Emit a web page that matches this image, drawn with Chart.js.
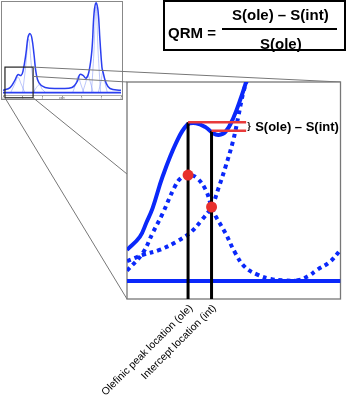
<!DOCTYPE html>
<html>
<head>
<meta charset="utf-8">
<script src="https://cdn.jsdelivr.net/npm/chart.js"></script>
<style>
html, body { margin: 0; padding: 0; background: #fff; }
body { width: 346px; height: 400px; position: relative; overflow: hidden; font-family: "Liberation Sans", Arial, sans-serif; }
#inset, #main { position: absolute; left: 0; top: 0; }
#qrm { position: absolute; left: 163px; top: 0; width: 183px; height: 51px; box-sizing: border-box; border: 2px solid #000; font-weight: bold; font-size: 15px; line-height: 15px; color: #000; }
#qrm span { position: absolute; white-space: nowrap; }
#qrm .bar { position: absolute; left: 57px; top: 26px; width: 115px; height: 2px; background: #000; }
</style>
</head>
<body>
<canvas id="inset" width="126" height="101"></canvas>
<canvas id="main" width="346" height="400"></canvas>
<div id="qrm">
  <span style="left:3px; top:23px;">QRM =</span>
  <span id="num" style="left:67px; top:5px;">S(ole) – S(int)</span>
  <div class="bar"></div>
  <span id="den" style="left:95px; top:34px;">S(ole)</span>
</div>
<script>
// ---- inset: full spectrum (ppm, normalised intensity)
var insetPpm = [6.0, 5.64, 5.39, 5.24, 5.08, 4.98, 4.83, 4.73, 4.63, 4.53, 4.42, 4.32, 4.17, 3.86, 3.10, 2.49, 2.24, 2.09, 1.93, 1.78, 1.63, 1.48, 1.37, 1.27, 1.17, 1.07, 0.97, 0.92, 0.76, 0.56, 0.0];
var insetSum = [0.05, 0.08, 0.16, 0.22, 0.21, 0.26, 0.45, 0.62, 0.66, 0.61, 0.43, 0.24, 0.13, 0.08, 0.07, 0.08, 0.14, 0.22, 0.21, 0.18, 0.25, 0.48, 0.88, 0.99, 0.91, 0.59, 0.30, 0.25, 0.13, 0.07, 0.05];
var insetBase = [0.025, 0.025];
var comp1 = [[5.6, 0.03], [5.4, 0.12], [5.24, 0.19], [5.08, 0.12], [4.9, 0.03]];
var comp2 = [[5.0, 0.03], [4.85, 0.3], [4.7, 0.6], [4.55, 0.3], [4.4, 0.03]];
var comp3 = [[4.45, 0.03], [4.3, 0.08], [4.15, 0.11], [4.0, 0.06], [3.85, 0.03]];
var comp4 = [[2.45, 0.03], [2.3, 0.12], [2.18, 0.2], [2.05, 0.12], [1.9, 0.03]];
var comp5 = [[1.95, 0.03], [1.8, 0.13], [1.68, 0.21], [1.55, 0.13], [1.42, 0.03]];
var comp6 = [[1.5, 0.03], [1.38, 0.45], [1.27, 0.95], [1.16, 0.45], [1.04, 0.03]];
var comp7 = [[1.15, 0.03], [1.02, 0.14], [0.92, 0.25], [0.82, 0.14], [0.7, 0.03]];
// zoomed window shown in the big panel
var zoomWin = { left: 5.9, right: 4.47, top: 0.30, bottom: -0.03, mid: 0.2 };

// ---- main panel (arbitrary units 0..100)
var solidX = [0, 6.0, 9.2, 12.0, 16.6, 23.0, 28.1, 32.3, 36.9, 40.1, 42.9, 46.1, 49.8, 53.5, 55.8, 58];
var solidY = [22.6, 28.6, 35.5, 41.9, 56.2, 71.9, 80.2, 81.0, 79.1, 76.5, 75.6, 77.0, 83.4, 93.1, 100, 107];
var oleCompX = [0, 7.4, 12.0, 16.6, 22.1, 25.3, 29.0, 32.7, 36.9, 39.6, 41.5, 46.1, 50.7, 55.3, 61.3, 67.3, 73, 80];
var oleCompY = [13.0, 21.2, 30.4, 39.2, 51.2, 55.8, 57.1, 55.8, 50.2, 42.4, 38.2, 30.4, 21.2, 14.7, 11.1, 9.2, 8.6, 8.3];
var bigCompX = [0, 7.4, 15.2, 23.0, 30.0, 35.0, 39.6, 42.9, 46.1, 49.8, 52.1, 54.4, 56.2, 58];
var bigCompY = [17.5, 20.3, 22.6, 26.3, 30.9, 36.4, 42.4, 51.2, 60.8, 73.3, 83.9, 94.9, 101, 108];
var nextCompX = [72, 80, 85, 89, 95, 100];
var nextCompY = [8.3, 8.6, 10.6, 13.4, 17.1, 22.6];
var baseX = [0, 100];
var baseY = [8.3, 8.3];

var oleX = 28.6, intX = 39.6;
var sOle = 81.5, sInt = 77.5;
var dotY = [57.1, 42.4];
var redEnd = 55.8;
var tickLabels = ['Olefinic peak location (ole)', 'Intercept location (int)'];
var diffLabel = 'S(ole) – S(int)';

Chart.defaults.font.family = '"Liberation Sans", Arial, sans-serif';

function pts(xs, ys) {
    return xs.map(function(x, i) { return {x: x, y: ys[i]}; });
}
function pairs(arr) {
    return arr.map(function(p) { return {x: p[0], y: p[1]}; });
}

var blue = 'rgb(10,40,250)';
var compStyle = function(d) {
    return {data: pairs(d), borderColor: 'rgba(100,125,245,0.55)', borderWidth: 0.8, tension: 0.4, pointRadius: 0};
};

var insetFrame = {
    id: 'insetFrame',
    afterDraw: function(chart) {
        var ctx = chart.ctx, x = chart.scales.x, y = chart.scales.y;
        ctx.save();
        ctx.strokeStyle = '#888';
        ctx.lineWidth = 1;
        ctx.strokeRect(1.5, 1.5, 121, 98);
        var l = x.getPixelForValue(zoomWin.left), r = x.getPixelForValue(zoomWin.right);
        var t = y.getPixelForValue(zoomWin.top), b = y.getPixelForValue(zoomWin.bottom);
        ctx.strokeStyle = '#222';
        ctx.lineWidth = 1.2;
        ctx.strokeRect(l, t, r - l, b - t);
        ctx.restore();
    }
};

var insetChart = new Chart(document.getElementById('inset'), {
    type: 'line',
    data: {
        datasets: [
            {data: pts(insetPpm, insetSum), borderColor: '#2a3ef0', borderWidth: 1.5, tension: 0.4, pointRadius: 0},
            {data: pts([6, 0], insetBase), borderColor: '#2a3ef0', borderWidth: 1.8, pointRadius: 0},
            compStyle(comp1), compStyle(comp2), compStyle(comp3), compStyle(comp4),
            compStyle(comp5), compStyle(comp6), compStyle(comp7)
        ]
    },
    options: {
        responsive: false,
        animation: false,
        devicePixelRatio: 1,
        layout: {padding: {left: 3, right: 5, top: 2, bottom: 1}},
        plugins: {legend: {display: false}, tooltip: {enabled: false}},
        scales: {
            x: {
                type: 'linear', reverse: true, min: 0, max: 6,
                ticks: {stepSize: 1, font: {size: 3}, color: '#777', padding: 0, maxRotation: 0},
                grid: {drawOnChartArea: false, tickLength: 2, color: '#999'},
                border: {color: '#999', width: 0.8},
                title: {display: true, text: 'ppm', font: {size: 3}, color: '#777', padding: 0},
                afterFit: function(s) { s.height = 5; s.paddingLeft = 0; s.paddingRight = 0; }
            },
            y: {display: false, min: 0, max: 1}
        }
    },
    plugins: [insetFrame]
});

var zoomFrame = {
    id: 'zoomFrame',
    beforeDatasetsDraw: function(chart) {
        var ctx = chart.ctx, a = chart.chartArea;
        var ix = insetChart.scales.x, iy = insetChart.scales.y;
        var l = ix.getPixelForValue(zoomWin.left), r = ix.getPixelForValue(zoomWin.right);
        var t = iy.getPixelForValue(zoomWin.top), b = iy.getPixelForValue(zoomWin.bottom);
        var m = iy.getPixelForValue(zoomWin.mid);
        var sideY = chart.scales.y.getPixelForValue(57.6);
        ctx.save();
        ctx.strokeStyle = '#777';
        ctx.lineWidth = 1;
        ctx.beginPath();
        ctx.moveTo(r, t); ctx.lineTo(a.right, a.top);
        ctx.moveTo(r, m); ctx.lineTo(a.left, a.top);
        ctx.moveTo(l, b); ctx.lineTo(a.left, a.bottom);
        ctx.moveTo(r, b); ctx.lineTo(a.left, sideY);
        ctx.stroke();
        ctx.fillStyle = '#fff';
        ctx.fillRect(a.left, a.top, a.right - a.left, a.bottom - a.top);
        ctx.strokeStyle = '#777';
        ctx.lineWidth = 1.3;
        ctx.strokeRect(a.left, a.top, a.right - a.left, a.bottom - a.top);
        ctx.restore();
    },
    afterDatasetsDraw: function(chart) {
        var ctx = chart.ctx, x = chart.scales.x, y = chart.scales.y;
        var px = x.getPixelForValue(redEnd);
        var py = (y.getPixelForValue(sOle) + y.getPixelForValue(sInt)) / 2;
        ctx.save();
        ctx.fillStyle = '#000';
        ctx.textBaseline = 'middle';
        ctx.font = 'bold 9px "Liberation Sans", Arial';
        ctx.fillText('}', px + 1, py);
        ctx.font = 'bold 13px "Liberation Sans", Arial';
        ctx.fillText(diffLabel, px + 9, py + 1);
        ctx.restore();
    }
};

var ctx = document.getElementById('main').getContext('2d');
var mainChart = new Chart(ctx, {
    type: 'line',
    data: {
        datasets: [
            {data: [{x: oleX, y: dotY[0]}, {x: intX, y: dotY[1]}], showLine: false, pointRadius: 5.5, pointBackgroundColor: '#e8302c', pointBorderWidth: 0, order: 0, clip: false},
            {data: [{x: oleX, y: sOle}, {x: redEnd, y: sOle}], borderColor: '#e83b3b', borderWidth: 2.5, pointRadius: 0, order: 1},
            {data: [{x: intX, y: sInt}, {x: redEnd, y: sInt}], borderColor: '#e83b3b', borderWidth: 2.5, pointRadius: 0, order: 1},
            {data: [{x: oleX, y: sOle}, {x: oleX, y: 0}], borderColor: '#000', borderWidth: 3, pointRadius: 0, order: 2, clip: 0},
            {data: [{x: intX, y: sInt}, {x: intX, y: 0}], borderColor: '#000', borderWidth: 3, pointRadius: 0, order: 2, clip: 0},
            {data: pts(solidX, solidY), borderColor: blue, borderWidth: 4, tension: 0.4, pointRadius: 0, order: 3, clip: 0},
            {data: pts(oleCompX, oleCompY), borderColor: blue, borderWidth: 4, borderDash: [4, 4], tension: 0.4, pointRadius: 0, order: 4, clip: 0},
            {data: pts(bigCompX, bigCompY), borderColor: blue, borderWidth: 4, borderDash: [4, 4], tension: 0.4, pointRadius: 0, order: 4, clip: 0},
            {data: pts(nextCompX, nextCompY), borderColor: blue, borderWidth: 4, borderDash: [4, 4], tension: 0.4, pointRadius: 0, order: 4, clip: 0},
            {data: pts(baseX, baseY), borderColor: blue, borderWidth: 4, pointRadius: 0, order: 5, clip: 0}
        ]
    },
    options: {
        responsive: false,
        animation: false,
        devicePixelRatio: 1,
        layout: {padding: {left: 127, top: 82, right: 2, bottom: 0}},
        plugins: {legend: {display: false}, tooltip: {enabled: false}},
        scales: {
            x: {
                type: 'linear', min: 0, max: 100,
                afterBuildTicks: function(s) { s.ticks = [{value: oleX}, {value: intX}]; },
                ticks: {
                    callback: function(v, i) { return tickLabels[i]; },
                    minRotation: 45, maxRotation: 45, autoSkip: false,
                    font: {size: 10.5}, color: '#000', padding: 3, labelOffset: 3
                },
                grid: {display: false, drawTicks: false},
                border: {display: false},
                afterFit: function(s) { s.height = 101; s.paddingLeft = 0; s.paddingRight = 0; }
            },
            y: {display: false, min: 0, max: 100}
        }
    },
    plugins: [zoomFrame]
});
</script>
</body>
</html>
